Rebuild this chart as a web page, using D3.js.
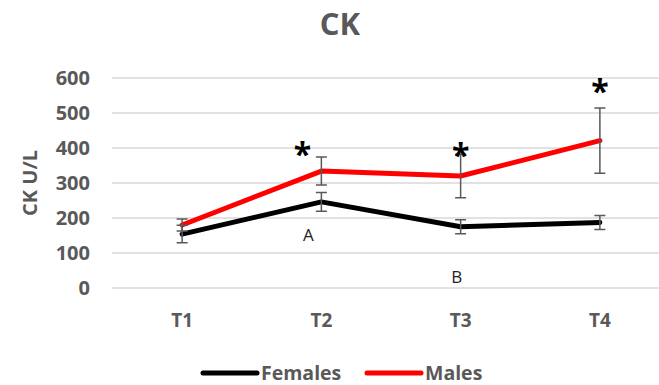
<!DOCTYPE html>
<meta charset="utf-8">
<style>
  body { margin: 0; background: #fff; }
  text { font-family: "Open Sans", sans-serif; }
</style>
<body>
<div id="vis"></div>
<script src="https://cdn.jsdelivr.net/npm/d3@7/dist/d3.min.js"></script>
<script>

const width = 659,
    height = 385;

const gray = '#595959';

// data
const times = ['T1', 'T2', 'T3', 'T4'];
const yTicks = [0, 100, 200, 300, 400, 500, 600];
const females = [154, 246, 175, 187];
const femalesErr = [25, 27, 20, 20];
const males = [180, 334, 320, 421];
const malesErr = [17, 40, 62, 93];
// significance marks: category, value (centre height)
const stars = [['T2', 397], ['T3', 393], ['T4', 577]];
const letters = [['T2', 'A', 134, -13], ['T3', 'B', 13, -4]];

const series = [
  {name: 'Females', color: '#000000', values: females, err: femalesErr},
  {name: 'Males', color: '#ff0000', values: males, err: malesErr}
];

const svg = d3.select('#vis')
    .append('svg')
    .attr('width', width)
    .attr('height', height);

const x = d3.scalePoint()
    .domain(times)
    .range([112.5, 669.5])
    .padding(0.5);

const y = d3.scaleLinear()
    .domain([0, 600])
    .range([288, 78]);

// gridlines
svg.selectAll('.grid')
  .data(yTicks)
  .enter().append('line')
  .attr('x1', 112).attr('x2', 670)
  .attr('y1', d => y(d)).attr('y2', d => y(d))
  .style('stroke', '#d9d9d9')
  .style('stroke-width', 1.5);

// y tick labels
svg.selectAll('.ytick')
  .data(yTicks)
  .enter().append('text')
  .attr('x', 90)
  .attr('y', d => y(d) + 7)
  .style('text-anchor', 'end')
  .style('font-size', '20px')
  .style('font-weight', 'bold')
  .style('fill', gray)
  .text(d => d);

// x tick labels
svg.selectAll('.xtick')
  .data(times)
  .enter().append('text')
  .attr('x', d => x(d))
  .attr('y', 327)
  .style('text-anchor', 'middle')
  .style('font-size', '19px')
  .style('font-weight', 'bold')
  .style('fill', gray)
  .text(d => d);

// title
svg.append('text')
  .attr('x', 340).attr('y', 35)
  .style('text-anchor', 'middle')
  .style('font-size', '31px')
  .style('font-weight', 'bold')
  .style('fill', gray)
  .text('CK');

// y axis title
svg.append('text')
  .attr('transform', 'translate(37,183) rotate(-90)')
  .style('text-anchor', 'middle')
  .style('font-size', '20px')
  .style('font-weight', 'bold')
  .style('fill', gray)
  .text('CK U/L');

const line = d3.line()
    .x((d, i) => x(times[i]))
    .y(d => y(d));

// lines first, error bars on top
series.forEach(s => {
  svg.append('path')
    .attr('d', line(s.values))
    .style('fill', 'none')
    .style('stroke', s.color)
    .style('stroke-width', 5)
    .style('stroke-linecap', 'round')
    .style('stroke-linejoin', 'round');
});

series.forEach(s => {
  const g = svg.append('g');
  s.values.forEach((v, i) => {
    const cx = x(times[i]);
    const top = y(v + s.err[i]), bot = y(v - s.err[i]);
    g.append('path')
      .attr('d', 'M' + (cx - 5.5) + ',' + top + 'h11M' + cx + ',' + top + 'V' + bot + 'M' + (cx - 5.5) + ',' + bot + 'h11')
      .style('fill', 'none')
      .style('stroke', gray)
      .style('stroke-width', 1.5);
  });
});

// asterisks
svg.selectAll('.star')
  .data(stars)
  .enter().append('text')
  .attr('x', d => x(d[0]) - (d[0] == 'T2' ? 19 : 0))
  .attr('y', d => y(d[1]) + 17)
  .style('text-anchor', 'middle')
  .style('font-size', '32px')
  .style('font-weight', 'bold')
  .style('fill', '#000')
  .text('*');

// letters
svg.selectAll('.letter')
  .data(letters)
  .enter().append('text')
  .attr('x', d => x(d[0]) + d[3])
  .attr('y', d => y(d[2]))
  .style('text-anchor', 'middle')
  .style('font-size', '17px')
  .style('fill', '#222')
  .text(d => d[1]);

// legend
const leg = svg.append('g');
const legX = [203, 367];
series.forEach((s, i) => {
  leg.append('line')
    .attr('x1', legX[i]).attr('x2', legX[i] + 54)
    .attr('y1', 373).attr('y2', 373)
    .style('stroke', s.color)
    .style('stroke-width', 5)
    .style('stroke-linecap', 'round');
  leg.append('text')
    .attr('x', legX[i] + 58)
    .attr('y', 380)
    .style('font-size', '19.5px')
    .style('font-weight', 'bold')
    .style('fill', gray)
    .text(s.name);
});

</script>
</body>
